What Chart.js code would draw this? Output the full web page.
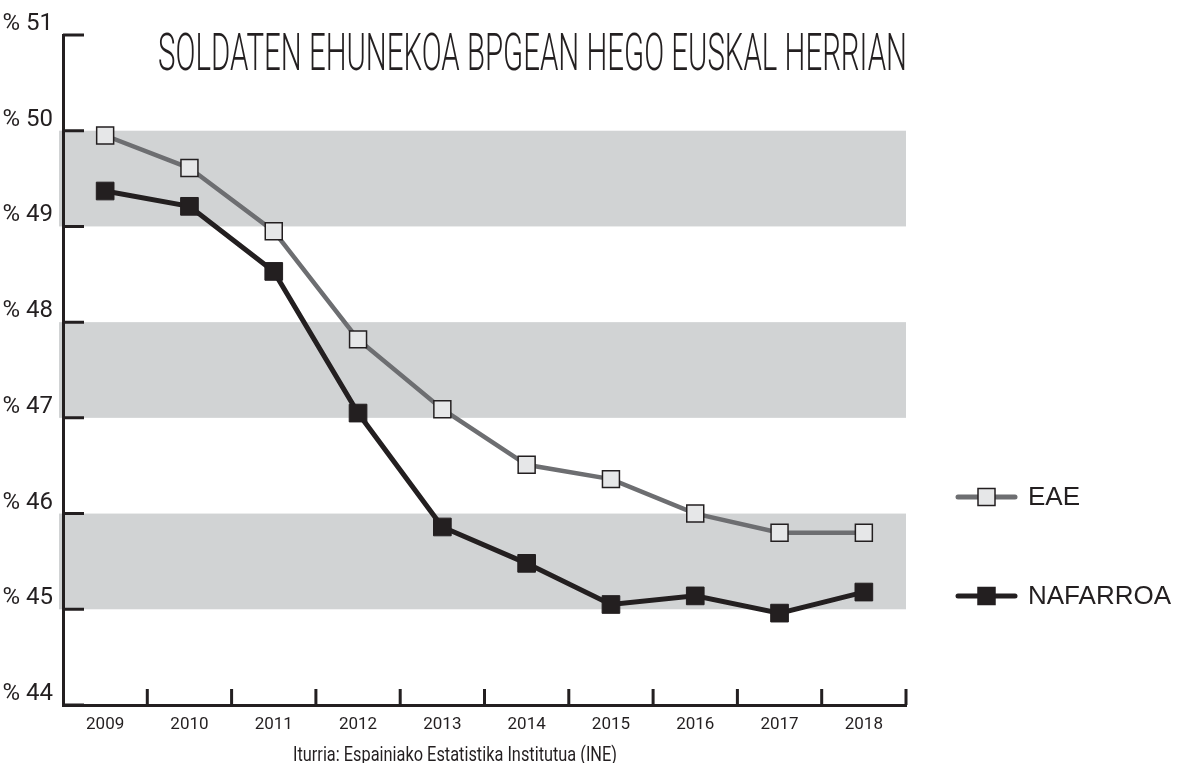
<!DOCTYPE html>
<html>
<head>
<meta charset="utf-8">
<script src="https://cdn.jsdelivr.net/npm/chart.js@4"></script>
<style>
  html, body { margin: 0; padding: 0; background: #fff; }
  #wrap { width: 1177px; height: 763px; position: relative; }
</style>
</head>
<body>
<div id="wrap"><canvas id="chart"></canvas></div>
<script>
// SOLDATEN EHUNEKOA BPGEAN – line chart, two regions

const years = ['2009', '2010', '2011', '2012', '2013', '2014', '2015', '2016', '2017', '2018'];
const eae = [49.95, 49.61, 48.95, 47.82, 47.09, 46.51, 46.36, 46.0, 45.8, 45.8];
const nafarroa = [49.37, 49.21, 48.53, 47.05, 45.86, 45.48, 45.05, 45.14, 44.96, 45.18];
const bands = [[49, 50], [47, 48], [45, 46]];
const titleText = 'SOLDATEN EHUNEKOA BPGEAN HEGO EUSKAL HERRIAN';
const sourceText = 'Iturria: Espainiako Estatistika Institutua (INE)';

const INK = '#231f20';
const GREY_LINE = '#6d6e71';
const NARROW = "Roboto, 'DejaVu Sans Condensed', sans-serif";
const REGULAR = "'Liberation Sans', Arial, sans-serif";

// draws text squeezed horizontally to a given width
function squeezeText(ctx, text, x, y, width) {
  const w = ctx.measureText(text).width;
  ctx.save();
  ctx.translate(x, y);
  ctx.scale(width / w, 1);
  ctx.fillText(text, 0, 0);
  ctx.restore();
}

// ── BACKGROUND BANDS ─────────────────────────────
const bandPlugin = {
  id: 'bands',
  beforeDraw(chart) {
    const { ctx, chartArea, scales: { y } } = chart;
    ctx.save();
    ctx.fillStyle = '#d1d3d4';
    bands.forEach(([lo, hi]) => {
      const top = y.getPixelForValue(hi);
      const bot = y.getPixelForValue(lo);
      ctx.fillRect(chartArea.left - 4, top, chartArea.right - chartArea.left + 4, bot - top);
    });
    ctx.restore();
  }
};

// ── INNER TICK MARKS, TITLE, SOURCE, LEGEND ──────
const decorPlugin = {
  id: 'decor',
  afterDraw(chart) {
    const { ctx, chartArea, scales: { x, y } } = chart;
    ctx.save();
    ctx.strokeStyle = INK;
    ctx.lineWidth = 3;
    ctx.beginPath();
    y.ticks.forEach(t => {
      const py = y.getPixelForValue(t.value);
      ctx.moveTo(chartArea.left, py);
      ctx.lineTo(chartArea.left + 21, py);
    });
    const step = (chartArea.right - chartArea.left) / years.length;
    for (let i = 1; i <= years.length; i++) {
      const px = chartArea.left + step * i;
      ctx.moveTo(px, chartArea.bottom);
      ctx.lineTo(px, chartArea.bottom - 16);
    }
    ctx.stroke();

    // title
    ctx.fillStyle = INK;
    ctx.textAlign = 'left';
    ctx.textBaseline = 'alphabetic';
    ctx.font = '300 51px ' + NARROW;
    squeezeText(ctx, titleText, 158, 70, 749);

    // source line
    ctx.font = '21px ' + NARROW;
    squeezeText(ctx, sourceText, 293, 761, 324);

    // legend
    const items = [
      { label: 'EAE', y: 497, line: GREY_LINE, fill: '#e6e7e8' },
      { label: 'NAFARROA', y: 596, line: INK, fill: INK }
    ];
    items.forEach(it => {
      ctx.strokeStyle = it.line;
      ctx.lineWidth = 5;
      ctx.lineCap = 'round';
      ctx.beginPath();
      ctx.moveTo(958, it.y);
      ctx.lineTo(1015, it.y);
      ctx.stroke();
      ctx.fillStyle = it.fill;
      ctx.fillRect(978, it.y - 8.5, 17, 17);
      ctx.strokeStyle = INK;
      ctx.lineWidth = 1.5;
      ctx.strokeRect(978, it.y - 8.5, 17, 17);
      ctx.fillStyle = INK;
      ctx.font = '26px ' + REGULAR;
      ctx.textAlign = 'left';
      ctx.textBaseline = 'middle';
      ctx.fillText(it.label, 1028, it.y + 1);
    });
    ctx.restore();
  }
};

new Chart(document.getElementById('chart'), {
  type: 'line',
  data: {
    labels: years,
    datasets: [{
      label: 'EAE',
      data: eae,
      borderColor: GREY_LINE,
      borderWidth: 4.5,
      pointStyle: 'rect',
      pointRadius: 12,
      pointBackgroundColor: '#e6e7e8',
      pointBorderColor: INK,
      pointBorderWidth: 1.5,
      tension: 0
    }, {
      label: 'NAFARROA',
      data: nafarroa,
      borderColor: INK,
      borderWidth: 5,
      pointStyle: 'rect',
      pointRadius: 12.5,
      pointBackgroundColor: INK,
      pointBorderColor: INK,
      pointBorderWidth: 1,
      tension: 0
    }]
  },
  options: {
    responsive: true,
    maintainAspectRatio: false,
    animation: false,
    layout: { padding: { top: 35, right: 271, left: 0, bottom: 0 } },
    plugins: { legend: { display: false }, tooltip: { enabled: false } },
    scales: {
      x: {
        offset: true,
        grid: { display: false, drawTicks: false },
        border: { display: true, color: INK, width: 3 },
        ticks: { color: INK, padding: 10, font: { family: NARROW, size: 17 } },
        afterFit(s) { s.height = 58; }
      },
      y: {
        min: 44,
        max: 51,
        grid: { display: false, drawTicks: false },
        border: { display: true, color: INK, width: 3 },
        ticks: {
          stepSize: 1,
          color: INK,
          padding: 10,
          labelOffset: -11,
          font: { family: NARROW, size: 24 },
          callback: v => '% ' + v
        },
        afterFit(s) { s.width = 63; }
      }
    }
  },
  plugins: [bandPlugin, decorPlugin]
});
</script>
</body>
</html>
